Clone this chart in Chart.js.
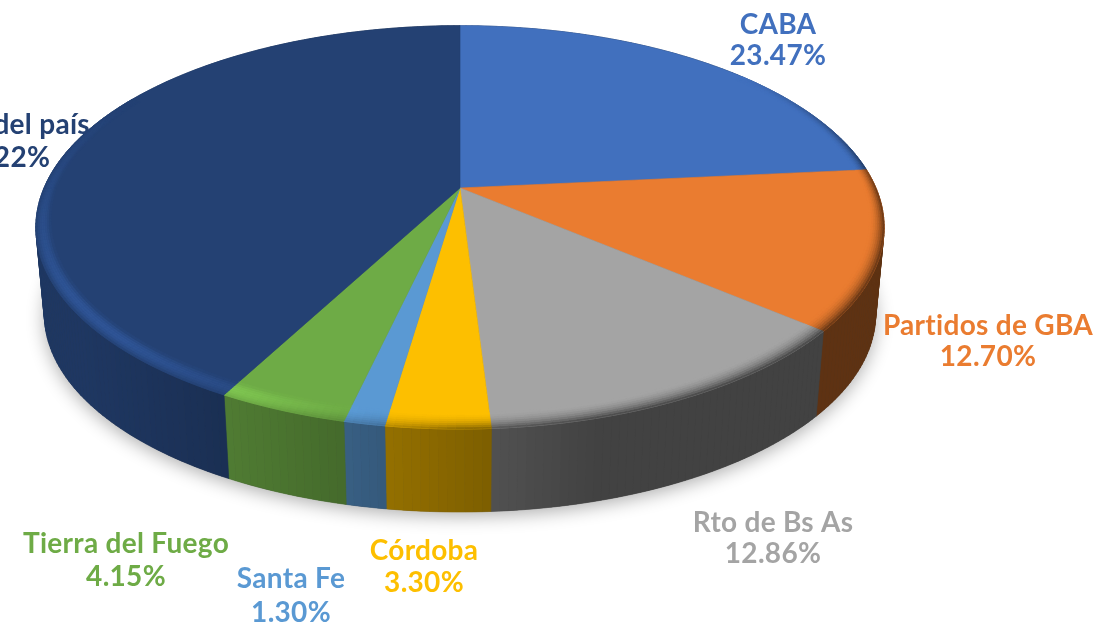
<!DOCTYPE html>
<html>
<head>
<meta charset="utf-8">
<style>
  html, body { margin: 0; padding: 0; background: #fff; overflow: hidden; }
  canvas { display: block; }
</style>
<script src="https://cdn.jsdelivr.net/npm/chart.js@4"></script>
</head>
<body>
<canvas id="myChart" width="1094" height="623"></canvas>
<script>
const categories = ['CABA', 'Partidos de GBA', 'Rto de Bs As', 'Córdoba', 'Santa Fe', 'Tierra del Fuego', 'Resto del país'];
const shares = [23.47, 12.70, 12.86, 3.30, 1.30, 4.15, 42.22];
const colors = ['#4170BE', '#EA7C30', '#A4A4A4', '#FDBF00', '#5A99D3', '#6EAB46', '#244173'];

// label centres: x, baseline of first line, baseline of second line
const labelSpots = [
	[778, 34, 65],
	[988, 335, 366],
	[773, 532, 563],
	[424, 560, 592],
	[291, 588, 622],
	[126, 553, 586],
	[2, 134, 167]
];

// the pie is seen from above with some perspective, canvas transforms can't do that
const cx = 460, cy = 188, rx = 416, ry = 194, persp = 0.195;

function project(angle, r) {
	const u = r * Math.cos(angle), v = -r * Math.sin(angle);
	const w = 1 + persp * v;
	return [cx + rx * u / w, cy - ry * v / w];
}

// bottom edge of the wall
function drop(p) {
	return [cx + 0.98 * (p[0] - cx), 0.98 * p[1] + 91.6];
}

function rgb(hex) {
	return [1, 3, 5].map(i => parseInt(hex.substr(i, 2), 16));
}

function css(c) {
	return 'rgb(' + c.map(n => Math.min(255, Math.round(n))).join(',') + ')';
}

function mix(a, b, t) {
	return a.map((n, i) => n + (b[i] - n) * t);
}

function clamp(t) {
	return Math.max(0, Math.min(1, t));
}

// walls get darker towards the right
function wallShade(x) {
	return 0.4 + 0.45 * clamp((600 - x) / 520);
}

function quad(ctx, pts, color) {
	ctx.fillStyle = color;
	ctx.strokeStyle = color;
	ctx.lineWidth = 0.6;
	ctx.beginPath();
	pts.forEach((p, i) => i ? ctx.lineTo(p[0], p[1]) : ctx.moveTo(p[0], p[1]));
	ctx.closePath();
	ctx.fill();
	ctx.stroke();
}

function steps(arc, size) {
	const n = Math.max(2, Math.ceil((arc.endAngle - arc.startAngle) / size));
	const list = [];
	for (let i = 0; i <= n; i++) {
		list.push(arc.startAngle + (arc.endAngle - arc.startAngle) * i / n);
	}
	return list;
}

const STEP = Math.PI / 180;

const pie3d = {
	id: 'pie3d',
	beforeDatasetsDraw(chart) {
		const ctx = chart.ctx;
		ctx.save();
		ctx.shadowColor = 'rgba(0,0,0,0.32)';
		ctx.shadowBlur = 18;
		ctx.shadowOffsetY = 4;
		ctx.fillStyle = '#444';
		ctx.beginPath();
		for (let a = 0; a < Math.PI * 2; a += STEP) {
			const p = drop(project(a, 1));
			ctx.lineTo(p[0], p[1]);
		}
		ctx.closePath();
		ctx.fill();
		ctx.restore();
	},
	beforeDatasetDraw(chart) {
		const ctx = chart.ctx;
		const arcs = chart.getDatasetMeta(0).data;

		// walls
		arcs.forEach((arc, k) => {
			const base = rgb(colors[k]);
			const a = steps(arc, STEP);
			for (let i = 0; i < a.length - 1; i++) {
				const p1 = project(a[i], 1), p2 = project(a[i + 1], 1);
				const f = wallShade((p1[0] + p2[0]) / 2);
				quad(ctx, [p1, p2, drop(p2), drop(p1)], css(base.map(n => n * f)));
			}
		});

		// top faces
		arcs.forEach((arc, k) => {
			const pts = [[cx, cy]];
			steps(arc, STEP).forEach(a => pts.push(project(a, 1)));
			quad(ctx, pts, colors[k]);
		});

		// bevel round the rim, lit on the front left, dark on the right
		const bands = 8;
		arcs.forEach((arc, k) => {
			const base = rgb(colors[k]);
			const a = steps(arc, STEP);
			for (let i = 0; i < a.length - 1; i++) {
				const mid = (a[i] + a[i + 1]) / 2;
				const deg = mid * 180 / Math.PI + 90;
				const lit = clamp((deg - 190) / 35) * clamp((300 - deg) / 60);
				const dark = clamp((deg - 50) / 40) * clamp((205 - deg) / 25);
				if (lit === 0 && dark === 0) continue;
				const dr = 0.03 + 0.025 * Math.max(0, Math.sin(mid));
				for (let b = 0; b < bands; b++) {
					// t runs from 0 on the inner side of the band to 1 at the edge
					const t = 1 - (b + 0.5) / bands;
					const r1 = 1 - dr * b / bands, r2 = 1 - dr * (b + 1) / bands;
					const p1 = project(a[i], r1), p2 = project(a[i + 1], r1);
					const f = wallShade((p1[0] + p2[0]) / 2);
					let c = base.map(n => n * (1 + 0.3 * lit * Math.sin(Math.PI * t)));
					c = mix(c, base.map(n => n * f), dark * t * t);
					quad(ctx, [p1, p2, project(a[i + 1], r2), project(a[i], r2)], css(c));
				}
			}
		});
		return false;
	},
	afterDraw(chart) {
		const ctx = chart.ctx;
		ctx.save();
		ctx.font = 'bold 28px Lato';
		ctx.letterSpacing = '0.3px';
		ctx.textAlign = 'center';
		ctx.textBaseline = 'alphabetic';
		categories.forEach((name, k) => {
			const spot = labelSpots[k];
			ctx.fillStyle = colors[k];
			ctx.fillText(name, spot[0], spot[1]);
			ctx.fillText(shares[k].toFixed(2) + '%', spot[0], spot[2]);
		});
		ctx.restore();
	}
};

new Chart(document.getElementById('myChart'), {
	type: 'pie',
	data: {
		labels: categories,
		datasets: [{
			data: shares,
			backgroundColor: colors,
			borderWidth: 0
		}]
	},
	options: {
		responsive: false,
		animation: false,
		plugins: {
			legend: { display: false },
			tooltip: { enabled: false }
		}
	},
	plugins: [pie3d]
});
</script>
</body>
</html>
